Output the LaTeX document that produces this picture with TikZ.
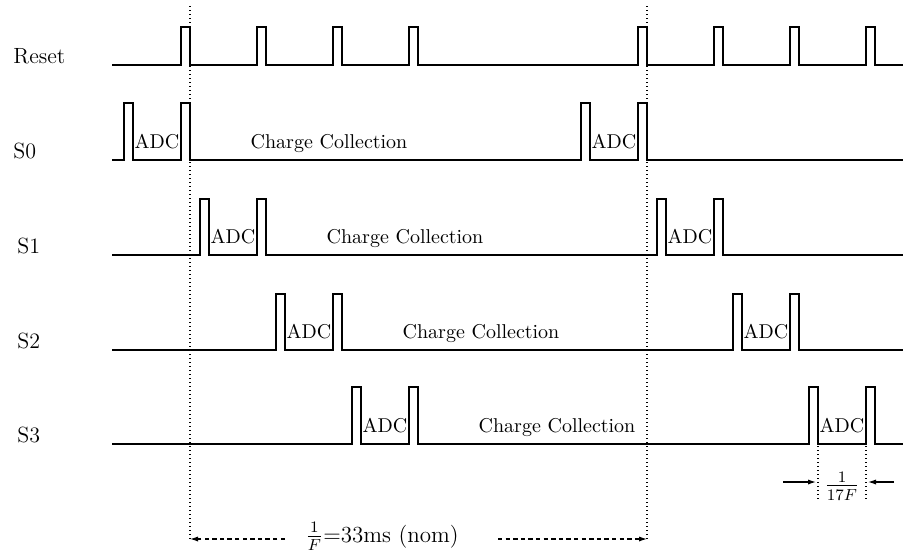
\documentclass[tikz,border=0pt]{standalone}
\usetikzlibrary{arrows.meta}
\begin{document}
\begin{tikzpicture}[x=0.5pt,y=-0.5pt,
  wave/.style={line width=0.75pt, line join=miter},
  guide/.style={line width=0.6pt, dash pattern=on 0.6pt off 1.4pt},
  dimline/.style={line width=0.6pt, dash pattern=on 2.2pt off 1.6pt, -{Latex[length=4pt,width=2.6pt]}},
  smallarrow/.style={line width=0.6pt, -{Latex[length=4pt,width=2.6pt]}},
  lbl/.style={anchor=base west, inner sep=0, font=\fontsize{11}{13}\selectfont},
  txt/.style={anchor=base, inner sep=0, font=\fontsize{10}{12}\selectfont}]
\useasboundingbox (0,0) rectangle (904,553);

% Reset line
\node[lbl] (lblReset) at (13,63) {Reset};
\draw[wave] (112,65) foreach \r in {190,266,342,418,647,723,799,875} {
  -- (\r-9,65) -- (\r-9,27) -- (\r,27) -- (\r,65) } -- (903,65);

% S rows
\foreach \nm/\lx/\lo/\hi/\ra/\rb in {S0/13/160/103/190/647, S1/17/255/199/266/723, S2/17/350/294/342/799, S3/17/444/387/418/875}{
  \node[lbl] (lbl\nm) at (\lx,\lo-2) {\nm};
  \draw[wave] (112,\lo) foreach \r in {\ra,\rb} {
    -- (\r-66,\lo) -- (\r-66,\hi) -- (\r-57,\hi) -- (\r-57,\lo)
    -- (\r-9,\lo) -- (\r-9,\hi) -- (\r,\hi) -- (\r,\lo) } -- (903,\lo);
  \node[txt] (adcA\nm) at (\ra-33,\lo-12) {ADC};
  \node[txt] (adcB\nm) at (\rb-33,\lo-12) {ADC};
  \node[txt] (cc\nm) at (\ra+139,\lo-12) {Charge Collection};
}

% frame period guides
\coordinate (gA) at (190,6);
\coordinate (gB) at (647,6);
\coordinate (gAb) at (190,541);
\coordinate (gBb) at (647,541);
\draw[guide] (gA) -- (gAb);
\draw[guide] (gB) -- (gBb);

\node[anchor=base, inner sep=0, font=\fontsize{11.5}{13}\selectfont] (period) at (382,542) {$\frac{1}{F}$=33ms (nom)};
\coordinate (pl) at (285,539);
\coordinate (pr) at (498,539);
\draw[dimline] (pl) -- (190,539);
\draw[dimline] (pr) -- (647,539);

% ADC interval 1/17F
\draw[guide] (818,446) -- (818,500);
\draw[guide] (866,446) -- (866,500);
\node[inner sep=0, font=\fontsize{12}{14}\selectfont] (adcint) at (842,486) {$\frac{1}{17F}$};
\coordinate (al) at (783,482);
\coordinate (ar) at (894,482);
\draw[smallarrow] (al) -- (816,482);
\draw[smallarrow] (ar) -- (868,482);
\end{tikzpicture}
\end{document}
